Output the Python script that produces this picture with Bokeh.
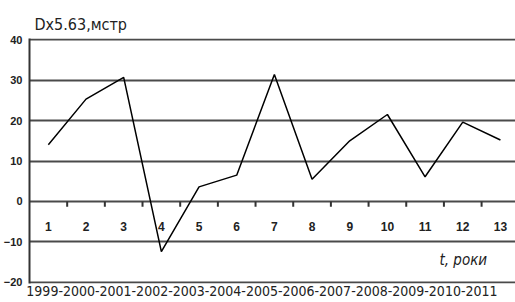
from bokeh.plotting import figure
from bokeh.models import FixedTicker, Label, Range1d, Title
from bokeh.core.properties import value
from bokeh.embed import file_html
from bokeh.resources import INLINE

# ---- data ----
periods = [1, 2, 3, 4, 5, 6, 7, 8, 9, 10, 11, 12, 13]
values = [14.0, 25.3, 30.7, -12.4, 3.6, 6.5, 31.4, 5.5, 15.0, 21.5, 6.1, 19.6, 15.2]
years = ["1999", "2000", "2001", "2002", "2003", "2004", "2005",
         "2006", "2007", "2008", "2009", "2010", "2011"]
y_ticks = [-20, -10, 0, 10, 20, 30, 40]
title_text = "Dx5.63,мстр"
x_label = "t, роки"

FONT = "'Liberation Sans Narrow', 'DejaVu Sans Condensed', 'Liberation Sans', sans-serif"
BOLD_FONT = "'Liberation Sans', 'DejaVu Sans', sans-serif"
GRID = "#4a4a4a"
TXT = "#222222"

p = figure(width=515, height=302, output_backend="svg", toolbar_location=None,
           x_range=Range1d(0.5, 13.4), y_range=Range1d(-20.3, 40.3),
           x_axis_type=None,
           min_border_left=27, min_border_right=0, min_border_top=38, min_border_bottom=19)
p.outline_line_color = None

# title (top-left)
p.title.text = title_text
p.title.align = "left"
p.title.offset = 5
p.title.standoff = 9
p.title.text_font = FONT
p.title.text_font_size = "16px"
p.title.text_font_style = "normal"
p.title.text_color = TXT

# y axis
p.yaxis.ticker = FixedTicker(ticks=y_ticks)
p.yaxis.major_tick_in = 0
p.yaxis.major_tick_out = 0
p.yaxis.minor_tick_line_color = None
p.yaxis.axis_line_color = "#333333"
p.yaxis.axis_line_width = 2
p.yaxis.major_label_standoff = 7
p.yaxis.major_label_text_font = BOLD_FONT
p.yaxis.major_label_text_font_size = "11px"
p.yaxis.major_label_text_font_style = "bold"
p.yaxis.major_label_text_color = TXT
p.ygrid.ticker = FixedTicker(ticks=y_ticks)
p.ygrid.grid_line_color = GRID
p.ygrid.grid_line_width = 2

# category boundary tick marks hanging below the zero line
bounds = [c + 0.5 for c in periods[:-1]]
p.segment(x0=bounds, y0=0, x1=bounds, y1=-1.3, line_color="#333333", line_width=2)

# category numbers under the zero line
p.text(x=periods, y=0, text=[str(c) for c in periods], y_offset=25,
       text_align="center", text_baseline="middle",
       text_font=value(BOLD_FONT), text_font_size=value("12px"),
       text_font_style="bold", text_color=TXT)

# series
p.line(periods, values, line_color="black", line_width=1.5)

# axis caption inside the frame
p.add_layout(Label(x=410, y=15, x_units="screen", y_units="screen", text=x_label,
                   text_font=FONT, text_font_size="15px", text_font_style="italic",
                   text_color=TXT))

# years strip under the chart
years_title = Title(text="-".join(years), align="right", offset=18, standoff=0,
                    text_font=FONT, text_font_size="14px", text_font_style="normal",
                    text_color=TXT)
p.add_layout(years_title, "below")

open("out.html", "w").write(file_html(p, INLINE))
